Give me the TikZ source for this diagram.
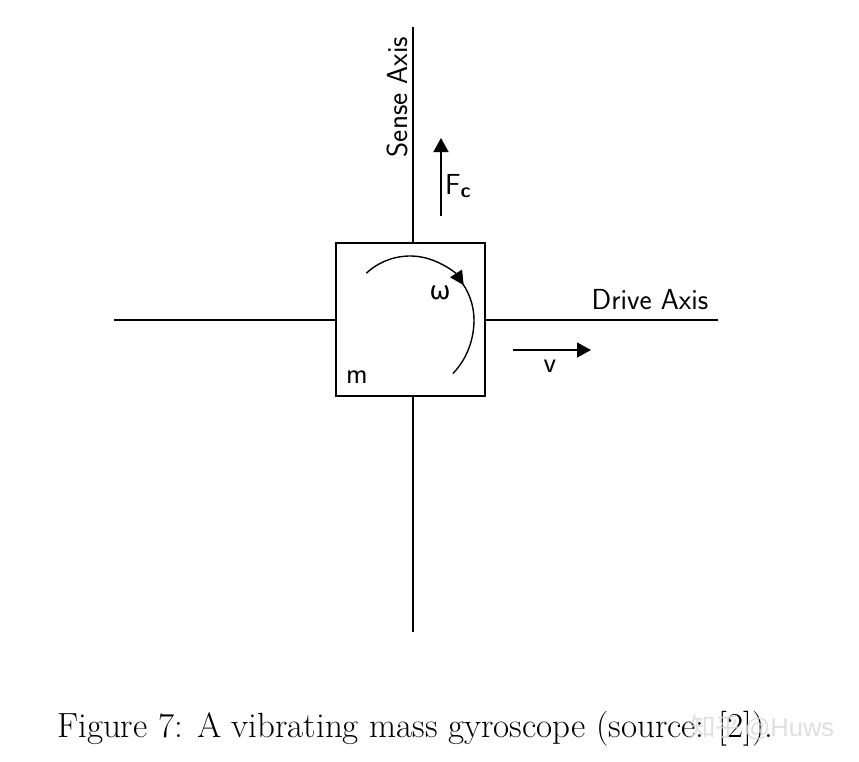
\documentclass[tikz,border=0pt]{standalone}
\usepackage{fontspec}
\newfontfamily\grk{DejaVu Sans}
\newfontfamily\cjk{Noto Sans CJK SC}
\newfontfamily\wm{Liberation Sans}
\usetikzlibrary{arrows.meta}
\begin{document}
\begin{tikzpicture}[x=1pt,y=-1pt,
  axis/.style={line width=1.5pt},
  lbl/.style={font=\sffamily\fontsize{29}{33}\selectfont, inner sep=0pt},
  arr/.style={line width=1.5pt,-{Triangle[length=14pt,width=15pt]}}]
\useasboundingbox (0,0) rectangle (859,761);
\node[draw,line width=1.5pt,minimum width=149pt,minimum height=153pt,inner sep=0pt] (box) at (410.5,319.5) {};
\coordinate (top) at (413,27);
\coordinate (bot) at (413,632);
\coordinate (left) at (114,320);
\coordinate (right) at (718,320);
\draw[axis] (top) -- (top|-box.north);
\draw[axis] (bot) -- (bot|-box.south);
\draw[axis] (left) -- (left-|box.west);
\draw[axis] (right) -- (right-|box.east);
\node[lbl,rotate=90] (sense) at (397,97) {Sense Axis};
\node[lbl] (drive) at (650,300) {Drive Axis};
\coordinate (fc0) at (441,216);
\coordinate (fc1) at (441,138);
\draw[arr] (fc0) -- (fc1);
\node[lbl] (fc) at (458,186) {F\textsubscript{\bfseries c}};
\coordinate (v0) at (513,350);
\coordinate (v1) at (591,350);
\draw[arr] (v0) -- (v1);
\node[lbl] (v) at (550,366) {v};
\coordinate (c) at (410,320);
\draw[line width=1.4pt,-{Triangle[length=14pt,width=14pt]}] ([shift={(-133:64)}]c) arc[start angle=-133,end angle=-33,radius=64];
\draw[line width=1.4pt] ([shift={(-40:64)}]c) arc[start angle=-40,end angle=0,radius=64]
   arc[start angle=0,end angle=48,x radius=64,y radius=72];
\node[inner sep=0pt,font=\grk\fontsize{25}{29}\selectfont] (w) at (440,293) {ω};
\node[lbl] (m) at (357,377) {m};
\node[inner sep=0pt,font=\fontsize{35}{40}\selectfont,anchor=base west] (cap) at (57,737) {Figure 7: A vibrating mass gyroscope (source: [2]).};
\node[inner sep=0pt,anchor=base west,text=gray!30,opacity=0.85] (wmk) at (690,736) {{\cjk\fontsize{25.5}{30}\selectfont 知乎} {\wm\fontsize{25.5}{30}\selectfont @Huws}};
\end{tikzpicture}
\end{document}
